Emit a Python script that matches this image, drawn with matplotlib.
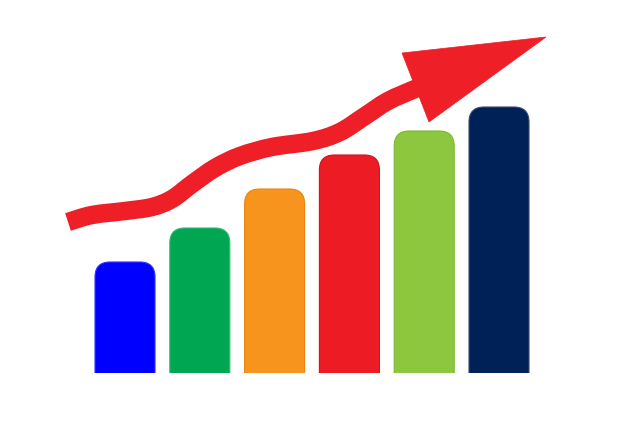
import numpy as np
import matplotlib
matplotlib.use("Agg")
import matplotlib.pyplot as plt
from matplotlib.patches import FancyBboxPatch, Rectangle, Polygon
from matplotlib.path import Path
from matplotlib.patches import PathPatch

# ---- data ----
categories = ["1", "2", "3", "4", "5", "6"]
values = [111, 145, 184, 218, 242, 266]
bar_colors = ["#0000FF", "#00A651", "#F7941D", "#ED1C24", "#8DC63F", "#002157"]
edge_colors = ["#3333FF", "#33B874", "#E8860F", "#D0101A", "#7DB92F", "#3A4A70"]

# arrow path (centerline) and head
arrow_x = [68, 92, 125, 152, 172, 192, 215, 240, 272, 313, 340, 365, 388, 415, 430]
arrow_y = [204, 211, 215, 219, 227, 242, 258, 270, 279, 285, 294, 310, 325, 337, 343]
head_x = [402, 546, 429]
head_y = [373, 389, 304]
arrow_color = "#EE1F27"

fig = plt.figure(figsize=(6.4, 4.26), dpi=100)
ax = fig.add_axes([0, 0, 1, 1])
ax.set_xlim(0, 640)
ax.set_ylim(0, 426)
ax.axis("off")

base = 53
bar_width = 60
x_pos = 125 + 74.8 * np.arange(len(categories))
bars = ax.bar(x_pos, values, width=bar_width, bottom=base, color=bar_colors)
r = 15
clip = Rectangle((0, base), 640, 426, transform=ax.transData)
for rect, fc, ec in zip(bars, bar_colors, edge_colors):
    x, y, w, h = rect.get_x(), rect.get_y(), rect.get_width(), rect.get_height()
    rect.set_visible(False)
    p = FancyBboxPatch((x, y - r), w, h + r,
                       boxstyle=f"round,pad=0,rounding_size={r}",
                       fc=fc, ec=ec, lw=0.8, zorder=2)
    ax.add_patch(p)
    p.set_clip_path(clip)

# smooth arrow band via Catmull-Rom -> Bezier path
pts = np.column_stack([arrow_x, arrow_y]).astype(float)
verts = [pts[0]]
codes = [Path.MOVETO]
n = len(pts)
for i in range(n - 1):
    p0 = pts[i - 1] if i > 0 else pts[i]
    p1 = pts[i]
    p2 = pts[i + 1]
    p3 = pts[i + 2] if i + 2 < n else pts[i + 1]
    c1 = p1 + (p2 - p0) / 6.0
    c2 = p2 - (p3 - p1) / 6.0
    verts += [c1, c2, p2]
    codes += [Path.CURVE4] * 3
band = PathPatch(Path(verts, codes), fill=False, ec=arrow_color,
                 lw=13.3, capstyle="butt", joinstyle="round", zorder=3)
ax.add_patch(band)
ax.add_patch(Polygon(np.column_stack([head_x, head_y]), closed=True,
                     fc=arrow_color, ec=arrow_color, lw=0.5, zorder=4))

fig.savefig("out.png", dpi=100, facecolor="white")
